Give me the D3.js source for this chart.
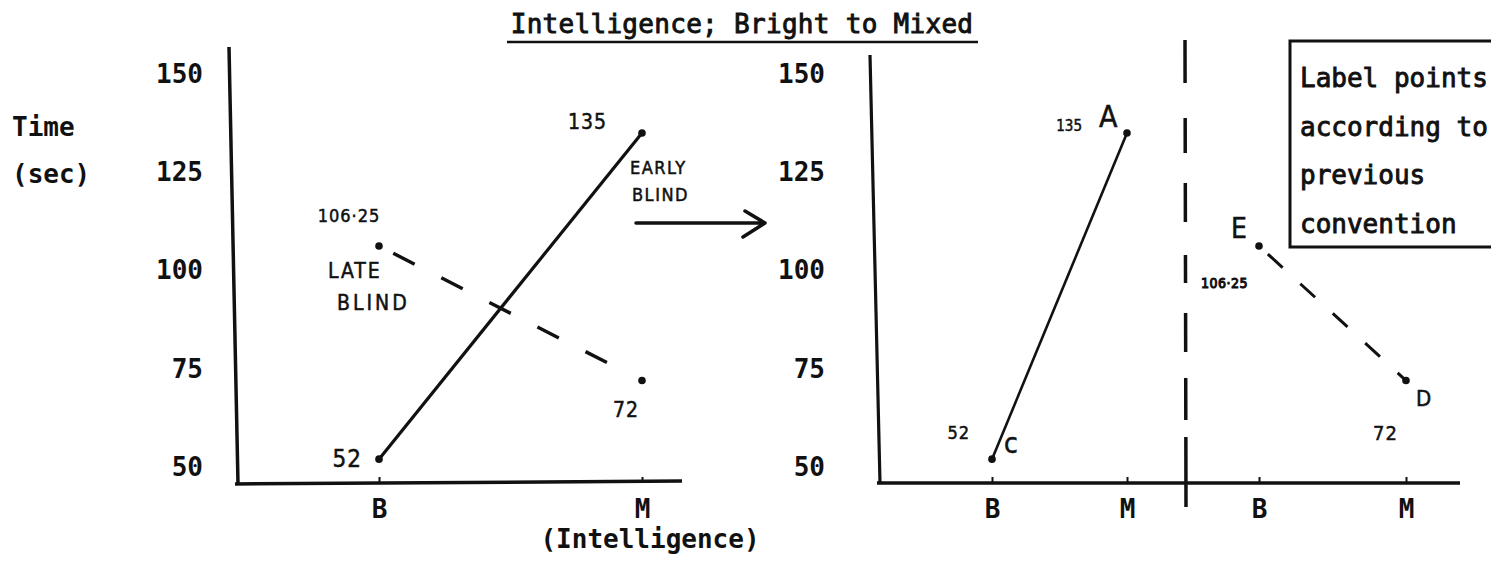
<!DOCTYPE html>
<html>
<head>
<meta charset="utf-8">
<script src="https://cdn.jsdelivr.net/npm/d3@7"></script>
<style>
  html, body { margin: 0; padding: 0; background: #fff; overflow: hidden; }
  svg { display: block; }
</style>
</head>
<body>
<svg id="chart" width="1491" height="579"></svg>
<script>
// Intelligence level (Bright / Mixed) on the x axis, time in seconds on the y axis
const categories = ["B", "M"];
const earlyBlind = [52, 135];
const lateBlind = [106.25, 72];
const earlyLabels = ["52", "135"];
const lateLabels = ["106·25", "72"];
const earlyLetters = ["c", "A"];
const lateLetters = ["E", "D"];
const yTicks = [50, 75, 100, 125, 150];
const noteLines = ["Label points", "according to", "previous", "convention"];

const svg = d3.select("#chart");
const TYPE = "'DejaVu Sans Mono', 'Liberation Mono', monospace";
const HAND = "'DejaVu Sans Condensed', 'DejaVu Sans', sans-serif";
const INK = "#111";

const y = d3.scaleLinear().domain([50, 150]).range([467, 74]);
const xL = d3.scalePoint().domain(categories).range([379, 642]);
const xR1 = d3.scalePoint().domain(categories).range([992, 1127]);
const xR2 = d3.scalePoint().domain(categories).range([1259, 1406]);

// typed text: regular monospace thickened slightly by a thin outline
function typed(sel, size) {
  return sel.attr("font-family", TYPE).attr("font-size", size || 26)
    .attr("fill", INK).attr("stroke", INK).attr("stroke-width", 0.9);
}

// ---- title ----
typed(svg.append("text")
  .attr("x", 742).attr("y", 33)
  .attr("text-anchor", "middle")
  .attr("letter-spacing", 0.3))
  .text("Intelligence; Bright to Mixed");
svg.append("line")
  .attr("x1", 507).attr("x2", 978).attr("y1", 42).attr("y2", 42)
  .attr("stroke", INK).attr("stroke-width", 2.5);

// ---- y-axis title ----
svg.append("text").attr("x", 12).attr("y", 136)
  .attr("font-family", TYPE).attr("font-size", 26).attr("font-weight", "bold").attr("fill", INK)
  .text("Time");
svg.append("text").attr("x", 12).attr("y", 183)
  .attr("font-family", TYPE).attr("font-size", 26).attr("font-weight", "bold").attr("fill", INK)
  .text("(sec)");

// ---- axis helpers ----
function styleAxis(g) {
  g.select(".domain").remove();
  g.selectAll("text")
    .attr("font-family", TYPE).attr("font-size", 26).attr("font-weight", "bold")
    .attr("fill", INK);
  g.selectAll("line").attr("stroke", INK).attr("stroke-width", 2);
}

function yAxisAt(xPos, pad) {
  svg.append("g")
    .attr("transform", `translate(${xPos},0)`)
    .call(d3.axisLeft(y).tickValues(yTicks).tickSize(0).tickPadding(pad).tickFormat(d3.format("d")))
    .call(styleAxis);
}

function xAxisAt(scale, yPos) {
  svg.append("g")
    .attr("transform", `translate(0,${yPos})`)
    .call(d3.axisBottom(scale).tickSize(-6).tickPadding(17))
    .call(styleAxis);
}

// ---- left panel ----
yAxisAt(233, 30);
xAxisAt(xL, 483);
svg.append("path").attr("d", "M229,47 L238,484")
  .attr("stroke", INK).attr("stroke-width", 3.5).attr("fill", "none");
svg.append("path").attr("d", "M235,484 L682,481")
  .attr("stroke", INK).attr("stroke-width", 3.5).attr("fill", "none");

svg.append("text").attr("x", 650).attr("y", 548)
  .attr("text-anchor", "middle")
  .attr("font-family", TYPE).attr("font-size", 26).attr("font-weight", "bold").attr("fill", INK)
  .text("(Intelligence)");

const line = xs => d3.line().x((d, i) => xs(categories[i])).y(d => y(d));

svg.append("path").datum(earlyBlind)
  .attr("d", line(xL))
  .attr("stroke", INK).attr("stroke-width", 3.2).attr("fill", "none");
svg.append("path").datum(lateBlind)
  .attr("d", line(xL))
  .attr("stroke", INK).attr("stroke-width", 3.4).attr("fill", "none")
  .attr("stroke-dasharray", "0,16,24,30,24,30,24,30,24,30,24,30");

function dots(xs, vals) {
  svg.append("g").selectAll("circle").data(vals).join("circle")
    .attr("cx", (d, i) => xs(categories[i]))
    .attr("cy", d => y(d))
    .attr("r", 3.8).attr("fill", INK);
}
dots(xL, earlyBlind);
dots(xL, lateBlind);

// handwritten notes
function hand(x, yy, txt, size, anchor, spacing) {
  return svg.append("text")
    .attr("x", x).attr("y", yy)
    .attr("text-anchor", anchor || "start")
    .attr("font-family", HAND).attr("font-size", size)
    .attr("letter-spacing", spacing || 0)
    .attr("fill", INK).attr("stroke", INK).attr("stroke-width", 0.5)
    .text(txt);
}

// value notes beside the left-panel points
hand(xL("B") - 17, y(earlyBlind[0]) + 8, earlyLabels[0], 24, "end", 1);
hand(xL("M") - 35, y(earlyBlind[1]) - 4, earlyLabels[1], 21, "end", 1);
hand(xL("B") - 30, y(lateBlind[0]) - 24, lateLabels[0], 18, "middle", 1);
hand(xL("M") - 16, y(lateBlind[1]) + 36, lateLabels[1], 21, "middle", 1);

hand(xL("B") - 51, y(lateBlind[0]) + 32, "LATE", 21, "start", 2);
hand(xL("B") - 42, y(lateBlind[0]) + 64, "BLIND", 21, "start", 3);
hand(xL("M") - 12, y(earlyBlind[1]) + 41, "EARLY", 18, "start", 1.5);
hand(xL("M") - 10, y(earlyBlind[1]) + 68, "BLIND", 18, "start", 1.5);

// arrow between the panels
svg.append("path").attr("d", "M636,223 L765,223 M745,211 L765,223 L743,237")
  .attr("stroke", INK).attr("stroke-width", 3.5).attr("fill", "none")
  .attr("stroke-linecap", "round").attr("stroke-linejoin", "round");

// ---- right panel ----
yAxisAt(875, 50);
xAxisAt(xR1, 483);
xAxisAt(xR2, 483);
svg.append("path").attr("d", "M870,55 L880,483")
  .attr("stroke", INK).attr("stroke-width", 3.2).attr("fill", "none");
svg.append("path").attr("d", "M877,483 L1460,483")
  .attr("stroke", INK).attr("stroke-width", 3.5).attr("fill", "none");
// divider between early and late blind
svg.append("path").attr("d", "M1185,40 L1186,507")
  .attr("stroke", INK).attr("stroke-width", 3.5).attr("fill", "none")
  .attr("stroke-dasharray", "43,35,35,30,39,33,28,30,39,26,42,17,70");

svg.append("path").datum(earlyBlind)
  .attr("d", line(xR1))
  .attr("stroke", INK).attr("stroke-width", 2.6).attr("fill", "none");
svg.append("path").datum(lateBlind)
  .attr("d", line(xR2))
  .attr("stroke", INK).attr("stroke-width", 3).attr("fill", "none")
  .attr("stroke-dasharray", "0,12,20,24,20,24,20,24,20,24,20,24,14");
dots(xR1, earlyBlind);
dots(xR2, lateBlind);

// early blind: c and A
hand(xR1("B") - 22, y(earlyBlind[0]) - 20, earlyLabels[0], 18, "end", 1);
hand(xR1("B") + 12, y(earlyBlind[0]) - 6, earlyLetters[0], 28);
hand(xR1("M") - 45, y(earlyBlind[1]) - 2, earlyLabels[1], 15, "end");
hand(xR1("M") - 28, y(earlyBlind[1]) - 6, earlyLetters[1], 30);

// late blind: E and D
hand(xR2("B") - 28, y(lateBlind[0]) - 8, lateLetters[0], 28);
hand(xR2("B") - 58, y(lateBlind[0]) + 42, lateLabels[0], 14, "start", 0.5)
  .attr("stroke-width", 1);
hand(xR2("M") + 10, y(lateBlind[1]) + 25, lateLetters[1], 22);
hand(xR2("M") - 33, y(lateBlind[1]) + 59, lateLabels[1], 20, "start", 1);

// ---- instruction box (runs off the right edge) ----
svg.append("path")
  .attr("d", "M1540,41 L1290,41 L1290,247 L1540,247")
  .attr("fill", "none").attr("stroke", INK).attr("stroke-width", 3);
svg.append("g").selectAll("text").data(noteLines).join("text")
  .attr("x", 1300)
  .attr("y", (d, i) => 87 + i * 48.5)
  .call(sel => typed(sel))
  .text(d => d);
</script>
</body>
</html>
